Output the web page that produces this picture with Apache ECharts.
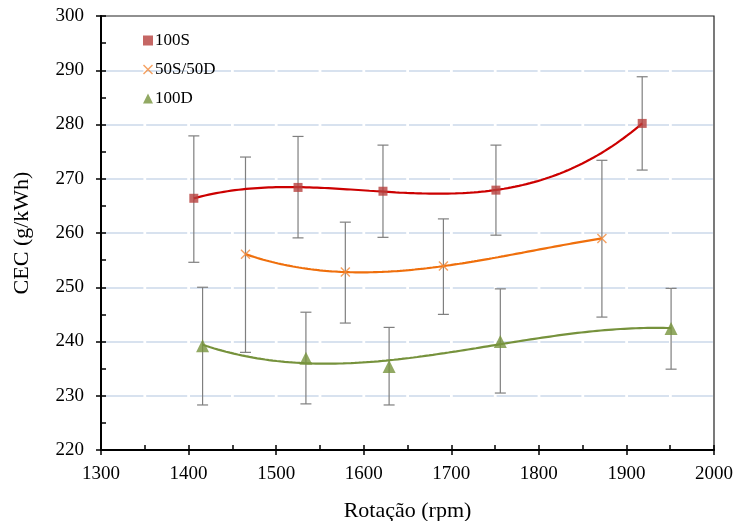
<!DOCTYPE html>
<html>
<head>
<meta charset="utf-8">
<script src="https://cdn.jsdelivr.net/npm/echarts@6/dist/echarts.min.js"></script>
<style>
  html, body { margin: 0; padding: 0; background: #fff; }
  #chart { width: 739px; height: 521px; }
</style>
</head>
<body>
<div id="chart"></div>
<script>
// Engine speed (rpm) and specific fuel consumption (g/kWh) per fuel blend
const rpm100S = [1406, 1525, 1622, 1751, 1918];
const cec100S = [266.4, 268.4, 267.7, 267.9, 280.2];
const hi100S  = [277.9, 277.8, 276.2, 276.2, 288.8];
const lo100S  = [254.6, 259.1, 259.2, 259.6, 271.6];

const rpm50S = [1465, 1579, 1691, 1872];
const cec50S = [256.1, 252.8, 253.9, 259.0];
const hi50S  = [274.0, 262.0, 262.6, 273.4];
const lo50S  = [238.0, 243.4, 245.0, 244.5];

const rpm100D = [1416, 1534, 1629, 1756, 1951];
const cec100D = [239.2, 236.9, 235.4, 240.0, 242.4];
const hi100D  = [250.0, 245.4, 242.6, 249.7, 249.8];
const lo100D  = [228.3, 228.5, 228.3, 230.5, 234.9];

const seriesNames = ['100S', '50S/50D', '100D'];
const xTicks = { min: 1300, max: 2000, step: 100 };
const yTicks = { min: 220, max: 300, step: 10 };

// Least-squares polynomial trend line (degree 3), sampled along the data range
function polyFit(xs, ys, deg) {
  const n = deg + 1, c = 1650, s = 100;
  const A = Array.from({ length: n }, () => new Array(n + 1).fill(0));
  xs.forEach((x, k) => {
    const t = (x - c) / s;
    for (let i = 0; i < n; i++) {
      for (let j = 0; j < n; j++) A[i][j] += Math.pow(t, i + j);
      A[i][n] += ys[k] * Math.pow(t, i);
    }
  });
  for (let i = 0; i < n; i++) {
    let p = i;
    for (let r = i + 1; r < n; r++) if (Math.abs(A[r][i]) > Math.abs(A[p][i])) p = r;
    [A[i], A[p]] = [A[p], A[i]];
    for (let r = 0; r < n; r++) {
      if (r === i) continue;
      const f = A[r][i] / A[i][i];
      for (let j = i; j <= n; j++) A[r][j] -= f * A[i][j];
    }
  }
  const coef = A.map((row, i) => row[n] / row[i]);
  return x => {
    const t = (x - c) / s;
    return coef.reduce((acc, a, i) => acc + a * Math.pow(t, i), 0);
  };
}
function trend(xs, ys) {
  const f = polyFit(xs, ys, 3);
  const a = Math.min(...xs), b = Math.max(...xs), out = [];
  for (let i = 0; i <= 120; i++) {
    const x = a + (b - a) * i / 120;
    out.push([x, f(x)]);
  }
  return out;
}

const zip = (xs, ys) => xs.map((x, i) => [x, ys[i]]);
const bars = (xs, lo, hi) => xs.map((x, i) => [x, lo[i], hi[i]]);

function errorBars(data) {
  return {
    type: 'custom',
    silent: true,
    z: 1,
    data: data,
    encode: { x: 0, y: [1, 2] },
    renderItem: (params, api) => {
      const x = api.value(0);
      const lo = api.coord([x, api.value(1)]);
      const hi = api.coord([x, api.value(2)]);
      const w = 5.5;
      const st = { stroke: '#7f7f7f', lineWidth: 1.2 };
      return {
        type: 'group',
        children: [
          { type: 'line', shape: { x1: lo[0], y1: lo[1], x2: hi[0], y2: hi[1] }, style: st },
          { type: 'line', shape: { x1: hi[0] - w, y1: hi[1], x2: hi[0] + w, y2: hi[1] }, style: st },
          { type: 'line', shape: { x1: lo[0] - w, y1: lo[1], x2: lo[0] + w, y2: lo[1] }, style: st }
        ]
      };
    }
  };
}
function trendLine(data, color) {
  return {
    type: 'line', data: data, showSymbol: false, silent: true, z: 2,
    lineStyle: { color: color, width: 2.2 }
  };
}

const crossPath = 'path://M1,0 L5,4 L9,0 L10,1 L6,5 L10,9 L9,10 L5,6 L1,10 L0,9 L4,5 L0,1 Z';
const serif = '"Liberation Serif", "DejaVu Serif", serif';
const plainNum = v => String(v);

const chart = echarts.init(document.getElementById('chart'), null, { renderer: 'canvas' });
const gridLine = {
  show: true, showMinLine: false, showMaxLine: false,
  lineStyle: { color: '#d8e2ef', width: 2, type: [41, 2.8], dashOffset: -1.4 }
};
const box = { left: 101, right: 25, top: 16, bottom: 71, outerBoundsMode: 'none', containLabel: false };
const tickStyle = { color: '#000', width: 1.5 };

chart.setOption({
  animation: false,
  backgroundColor: '#fff',
  textStyle: { fontFamily: serif },
  grid: [
    Object.assign({ show: true, borderColor: '#222', borderWidth: 1.2 }, box),
    Object.assign({}, box)
  ],
  legend: {
    data: seriesNames,
    orient: 'vertical',
    left: 138, top: 27,
    itemWidth: 10, itemHeight: 10, itemGap: 12,
    textStyle: { fontFamily: serif, fontSize: 17, color: '#000', padding: [0, 0, 0, -3] }
  },
  xAxis: [{
    gridIndex: 0,
    type: 'value', min: xTicks.min, max: xTicks.max, interval: xTicks.step,
    name: 'Rotação (rpm)', nameLocation: 'middle', nameGap: 50,
    nameTextStyle: { fontFamily: serif, fontSize: 22, color: '#000' },
    axisLine: { show: true, onZero: false, lineStyle: { color: '#000', width: 2 } },
    axisTick: { show: true, inside: false, length: 5, lineStyle: tickStyle },
    axisLabel: { fontFamily: serif, fontSize: 19, color: '#000', margin: 15, formatter: plainNum },
    splitLine: { show: false }
  }, {
    gridIndex: 1,
    type: 'value', min: xTicks.min, max: xTicks.max, interval: xTicks.step, position: 'bottom',
    axisLine: { show: false },
    axisTick: { show: true, inside: true, length: 5, lineStyle: tickStyle },
    minorTick: { show: true, splitNumber: 2, length: 5, lineStyle: tickStyle },
    axisLabel: { show: false }, splitLine: { show: false }
  }],
  yAxis: [{
    gridIndex: 0,
    type: 'value', min: yTicks.min, max: yTicks.max, interval: yTicks.step,
    name: 'CEC (g/kWh)', nameLocation: 'middle', nameGap: 68, nameRotate: 90,
    nameTextStyle: { fontFamily: serif, fontSize: 22, color: '#000' },
    axisLine: { show: true, onZero: false, lineStyle: { color: '#000', width: 2 } },
    axisTick: { show: true, inside: false, length: 5, lineStyle: tickStyle },
    axisLabel: { fontFamily: serif, fontSize: 19, color: '#000', margin: 17, formatter: plainNum },
    splitLine: gridLine
  }, {
    gridIndex: 1,
    type: 'value', min: yTicks.min, max: yTicks.max, interval: yTicks.step, position: 'left',
    axisLine: { show: false },
    axisTick: { show: true, inside: true, length: 5, lineStyle: tickStyle },
    minorTick: { show: true, splitNumber: 2, length: 5, lineStyle: tickStyle },
    axisLabel: { show: false }, splitLine: { show: false }
  }],
  series: [
    errorBars(bars(rpm100S, lo100S, hi100S)),
    errorBars(bars(rpm50S, lo50S, hi50S)),
    errorBars(bars(rpm100D, lo100D, hi100D)),
    trendLine(trend(rpm100S, cec100S), '#cc0000'),
    trendLine(trend(rpm50S, cec50S), '#ef6f0c'),
    trendLine(trend(rpm100D, cec100D), '#76923c'),
    {
      name: seriesNames[0], type: 'scatter', data: zip(rpm100S, cec100S), z: 5,
      symbol: 'rect', symbolSize: 9, itemStyle: { color: '#b7403d' }
    },
    {
      name: seriesNames[1], type: 'scatter', data: zip(rpm50S, cec50S), z: 5,
      symbol: crossPath, symbolSize: 10, itemStyle: { color: '#f28a3a' }
    },
    {
      name: seriesNames[2], type: 'scatter', data: zip(rpm100D, cec100D), z: 5,
      symbol: 'triangle', symbolSize: 13, itemStyle: { color: '#77943c' }
    }
  ]
});
</script>
</body>
</html>
